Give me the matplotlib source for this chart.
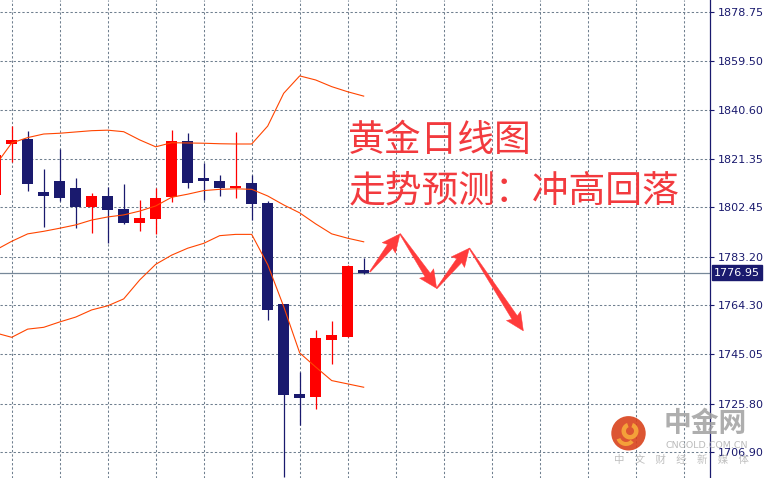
import matplotlib
matplotlib.use("Agg")
import matplotlib.pyplot as plt
import numpy as np
from matplotlib.patches import Polygon, Circle, Wedge

# candle index -1 is the one cut off at the left edge
idx = list(range(-1, 23))
opens = [1807.3, 1827.1, 1829.2, 1808.5, 1812.8, 1810.0, 1802.7, 1806.9, 1801.8, 1796.5, 1798.0, 1806.6,
         1828.4, 1813.8, 1812.8, 1810.0, 1812.0, 1804.2, 1764.7, 1729.7, 1728.5, 1750.8, 1751.9, 1778.0]
closes = [1822.9, 1828.8, 1811.7, 1807.0, 1806.2, 1802.7, 1806.9, 1801.5, 1796.5, 1798.3, 1806.1, 1828.4,
          1812.1, 1812.9, 1810.1, 1810.8, 1803.9, 1762.5, 1729.3, 1728.1, 1751.4, 1752.6, 1779.6, 1776.95]
highs = [1825.0, 1834.2, 1832.3, 1817.4, 1825.3, 1813.9, 1807.9, 1810.3, 1811.6, 1805.3, 1810.1, 1832.7,
         1831.5, 1819.8, 1815.1, 1831.9, 1815.1, 1804.9, 1764.7, 1738.2, 1754.6, 1758.1, 1779.9, 1782.7]
lows = [1806.0, 1820.3, 1809.0, 1794.9, 1804.8, 1794.5, 1792.6, 1788.7, 1796.1, 1793.3, 1792.2, 1804.7,
        1810.1, 1805.2, 1806.9, 1806.2, 1797.6, 1758.6, 1697.0, 1717.5, 1723.8, 1741.4, 1751.9, 1776.5]

bb_upper = [1819.0, 1827.6, 1829.7, 1831.1, 1831.4, 1831.9, 1832.4, 1832.6, 1832.0, 1828.8, 1826.1, 1827.7,
            1827.6, 1827.5, 1827.3, 1827.2, 1827.2, 1834.2, 1847.0, 1853.8, 1852.2, 1849.6, 1847.6, 1845.9]
bb_middle = [1785.8, 1789.2, 1792.1, 1793.1, 1794.3, 1795.6, 1797.5, 1798.7, 1799.5, 1801.0, 1803.0, 1806.4,
             1807.6, 1809.0, 1809.5, 1809.7, 1809.5, 1806.9, 1803.4, 1800.3, 1796.0, 1792.1, 1790.4, 1789.0]
bb_lower = [1753.4, 1751.7, 1754.9, 1755.6, 1757.7, 1759.6, 1762.4, 1764.0, 1766.7, 1774.1, 1780.2, 1783.8,
            1786.5, 1788.4, 1791.4, 1791.9, 1791.9, 1780.1, 1763.7, 1745.6, 1740.1, 1734.8, 1733.5, 1732.2]

price_ticks = [1878.75, 1859.50, 1840.60, 1821.35, 1802.45, 1783.20, 1764.30, 1745.05, 1725.80, 1706.90]
last_price = 1776.95

# forecast zig-zag (candle index, price)
arrow_x = [22.39, 24.27, 26.56, 28.6, 31.98]
arrow_y = [1777.3, 1792.1, 1770.8, 1786.5, 1754.2]

title_lines = ["黄金日线图", "走势预测：冲高回落"]

NAVY = "#1a1a6e"
RED = "#ff0000"
GRID = "#6f7f8f"
TXT_RED = "#f23a3e"
CJK = ["Noto Sans CJK SC", "DejaVu Sans"]


def tapered_arrow(ax, x0, y0, x1, y1, color):
    to_px = ax.transData
    p0 = np.array(to_px.transform((x0, y0)))
    p1 = np.array(to_px.transform((x1, y1)))
    d = p1 - p0
    L = np.hypot(*d)
    u = d / L
    n = np.array([-u[1], u[0]])
    h = min(16.0, 0.4 * L)
    base = p1 - u * h
    pts = [p0 + n * 0.5, base + n * 3.2, base + n * 8.5 - u * 2, p1,
           base - n * 8.5 - u * 2, base - n * 3.2, p0 - n * 0.5]
    pts = to_px.inverted().transform(np.array(pts))
    ax.add_patch(Polygon(pts, closed=True, facecolor=color, edgecolor=color, lw=0.3, zorder=6))


def main():
    fig = plt.figure(figsize=(7.68, 4.78), dpi=100)
    ax = fig.add_axes([0, 0, 709.5 / 768, 1])

    ax.set_xlim(-0.731, -0.731 + 709.5 / 16)
    ax.set_ylim(1696.75, 1883.44)

    # grid
    for v in price_ticks:
        ax.axhline(v, color=GRID, lw=0.75, ls=(0, (2.2, 2.0)), zorder=1)
    for i in range(0, 44, 3):
        ax.axvline(i, color=GRID, lw=0.75, ls=(0, (2.2, 2.0)), zorder=1)

    ax.axhline(last_price, color="#778899", lw=0.9, zorder=2)

    # candles
    for i, o, c, h, l in zip(idx, opens, closes, highs, lows):
        col = RED if c > o else NAVY
        ax.vlines(i, l, h, color=col, lw=0.9, zorder=3)
        ax.bar(i, max(abs(c - o), 0.8), bottom=min(o, c), width=0.69, color=col, lw=0, zorder=4)

    # bollinger bands
    for band in (bb_upper, bb_middle, bb_lower):
        ax.plot(idx, band, color="#ff4500", lw=0.8, zorder=5)

    # forecast arrows
    for k in range(len(arrow_x) - 1):
        tapered_arrow(ax, arrow_x[k], arrow_y[k], arrow_x[k + 1], arrow_y[k + 1], "#ff3b3b")

    ax.text(0.491, 0.707, title_lines[0], transform=ax.transAxes, family=CJK, fontsize=26.5,
            color=TXT_RED, va="center", ha="left", zorder=7)
    ax.text(0.491, 0.600, title_lines[1], transform=ax.transAxes, family=CJK, fontsize=26.5,
            color=TXT_RED, va="center", ha="left", zorder=7)

    # axis
    for s in ("left", "top", "bottom"):
        ax.spines[s].set_visible(False)
    ax.spines["right"].set_color(NAVY)
    ax.spines["right"].set_linewidth(0.9)
    ax.set_xticks([])
    ax.yaxis.tick_right()
    ax.set_yticks(price_ticks)
    ax.set_yticklabels([f"{v:.2f}" for v in price_ticks])
    ax.tick_params(axis="y", colors=NAVY, labelcolor=NAVY, length=3, width=0.8, pad=3, labelsize=8)

    ax.text(1.006, last_price, f"{last_price:.2f}", transform=ax.get_yaxis_transform(),
            color="white", fontsize=8, va="center", ha="left", clip_on=False,
            bbox=dict(boxstyle="square,pad=0.2", facecolor=NAVY, edgecolor=NAVY))

    # watermark
    tr = fig.dpi_scale_trans
    fig.add_artist(Circle((6.285, 0.447), 0.172, transform=tr, facecolor="#d9421c", edgecolor="none", alpha=0.9))
    fig.add_artist(Wedge((6.30, 0.47), 0.085, 110, 430, width=0.045, transform=tr,
                         facecolor="#f6a63a", edgecolor="none", alpha=0.95))
    fig.add_artist(Wedge((6.26, 0.42), 0.10, 200, 320, width=0.04, transform=tr,
                         facecolor="#f6a63a", edgecolor="none", alpha=0.95))
    fig.text(7.055 / 7.68, (4.78 - 4.24) / 4.78, "中金网", family=CJK, fontsize=20, fontweight="bold",
             color="#a0a0a0", alpha=0.85, ha="center", va="center")
    fig.text(7.067 / 7.68, (4.78 - 4.46) / 4.78, "CNGOLD.COM.CN", fontsize=6.8,
             color="#b0b0b0", alpha=0.85, ha="center", va="center")
    fig.text(6.81 / 7.68, (4.78 - 4.595) / 4.78, "中\u3000文\u3000财\u3000经\u3000新\u3000媒\u3000体",
             family=CJK, fontsize=7.5, color="#b8b8b8", alpha=0.9, ha="center", va="center")

    fig.savefig("out.png", dpi=100)


if __name__ == "__main__":
    main()
